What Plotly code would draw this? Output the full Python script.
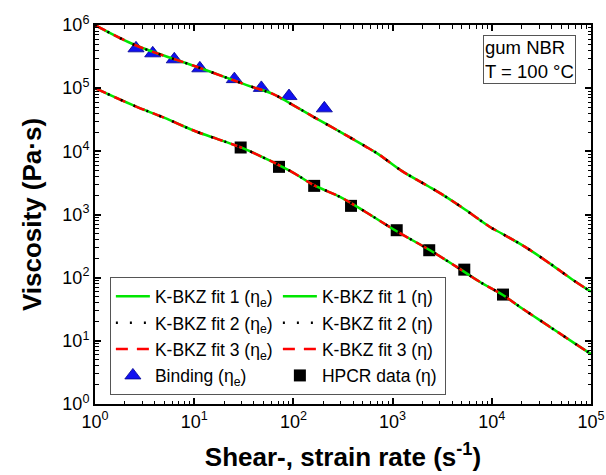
import plotly.graph_objects as go

# K-BKZ model curves: elongational viscosity eta_e (upper) and shear viscosity eta (lower)
rate_fit_e = [1, 2.53, 10.6, 33.8, 62.7, 92.5, 159, 295, 527, 718, 1236, 2291, 3126,
              5370, 9594, 12590, 21630, 38640, 66370, 100000]
eta_fit_e = [1.0e6, 4.82e5, 2.18e5, 1.12e5, 8.05e4, 5.74e4, 3.52e4, 2.04e4, 1.21e4, 9040,
             4910, 2805, 2100, 1200, 635, 500, 307, 167, 91, 60]

rate_fit = [1, 2.53, 4.89, 10.6, 17.5, 31.3, 92.5, 161, 295, 540, 1099, 2382, 4426,
            7603, 13060, 20800, 38640, 69020, 100000]
eta_fit = [1.0e5, 5.2e4, 3.44e4, 2.04e4, 1.55e4, 1.11e4, 4910, 2910, 1900, 1086, 543,
           272, 148, 85.5, 52.6, 31.6, 16.6, 9.04, 6.2]

# Measured data
rate_binding = [2.59, 3.82, 6.3, 11.4, 25.4, 47.5, 90.3, 205]
eta_binding = [4.27e5, 3.56e5, 2.86e5, 2.06e5, 1.39e5, 1.01e5, 7.5e4, 4.79e4]

rate_hpcr = [29.4, 71.6, 162, 381, 1100, 2340, 5280, 12970]
eta_hpcr = [11500, 5680, 2840, 1370, 564, 272, 134, 54]

x_decades = [1, 10, 100, 1000, 10000, 100000]
y_decades = [1, 10, 100, 1000, 10000, 100000, 1000000]

FONT = "Arial, Liberation Sans, sans-serif"
GREEN = "#00e600"
RED = "#ff0000"

fit_styles = {
    1: dict(color=GREEN, width=2.5, dash="solid"),
    2: dict(color="black", width=2.5, dash="2px,12px"),
    3: dict(color=RED, width=2.5, dash="12px,9px"),
}


def lbl(text):
    return f"<span style='font-size:17.5px'>{text}</span>"


fig = go.Figure()

# Data markers (drawn first so the fit lines run over them)
fig.add_trace(go.Scatter(
    x=rate_binding, y=eta_binding, mode="markers",
    name=lbl("Binding (η<sub>e</sub>)"), legendrank=7,
    marker=dict(symbol="triangle-up", size=14, color="#1010f0",
                line=dict(color="#000090", width=0.8)),
))
fig.add_trace(go.Scatter(
    x=rate_hpcr, y=eta_hpcr, mode="markers",
    name=lbl("HPCR data (η)"), legendrank=8,
    marker=dict(symbol="square", size=12, color="black"),
))

# Fits: solid green, dashed red on top, dotted black on top of all
for k in (1, 3, 2):
    fig.add_trace(go.Scatter(
        x=rate_fit_e, y=eta_fit_e, mode="lines", line_shape="spline",
        name=lbl(f"K-BKZ fit {k} (η<sub>e</sub>)"), legendrank=2 * k - 1,
        line=fit_styles[k],
    ))
    fig.add_trace(go.Scatter(
        x=rate_fit, y=eta_fit, mode="lines", line_shape="spline",
        name=lbl(f"K-BKZ fit {k} (η)"), legendrank=2 * k,
        line=fit_styles[k],
    ))


def minor_vals(decades):
    return [d * m for d in decades[:-1] for m in range(2, 10)]


axis_common = dict(
    type="log", showline=True, linecolor="black", linewidth=2, mirror="allticks",
    ticks="inside", ticklen=6, tickwidth=2, tickcolor="black",
    showgrid=False, zeroline=False,
    tickfont=dict(family=FONT, size=18, color="black"),
    minor=dict(ticks="inside", ticklen=3.5, tickwidth=1, tickcolor="black",
               showgrid=False),
)

fig.update_xaxes(
    **axis_common, range=[0, 5],
    tickvals=x_decades, ticktext=[f"10<sup>{i}</sup>" for i in range(6)],
    title=dict(text="<b>Shear-, strain rate (s<sup>-1</sup>)</b>",
               font=dict(family=FONT, size=26, color="black"), standoff=17),
)
fig.update_xaxes(minor_tickvals=minor_vals(x_decades))
fig.update_yaxes(
    **axis_common, range=[0, 6],
    tickvals=y_decades, ticktext=[f"10<sup>{i}</sup>" for i in range(7)],
    title=dict(text="<b>Viscosity (Pa·s)</b>",
               font=dict(family=FONT, size=26, color="black"), standoff=13),
)
fig.update_yaxes(minor_tickvals=minor_vals(y_decades))

fig.add_annotation(
    xref="paper", yref="paper", x=0.782, y=0.974, xanchor="left", yanchor="top",
    text="gum NBR<br>T = 100 °C", align="left", showarrow=False,
    font=dict(family=FONT, size=18.5, color="black"),
    bordercolor="#555555", borderwidth=1, borderpad=1, bgcolor="white",
)

fig.update_layout(
    template="none",
    width=606, height=475,
    margin=dict(l=95, r=15, t=25, b=71, autoexpand=False),
    paper_bgcolor="white", plot_bgcolor="white",
    font=dict(family=FONT, color="black"),
    legend=dict(
        orientation="h", x=0.03, y=0.335, xanchor="left", yanchor="top",
        font=dict(family=FONT, size=18, color="black"),
        bordercolor="#555555", borderwidth=1, bgcolor="white",
        itemwidth=34, entrywidth=118, entrywidthmode="pixels", traceorder="normal",
    ),
    showlegend=True,
)

fig.write_html("out.html")
